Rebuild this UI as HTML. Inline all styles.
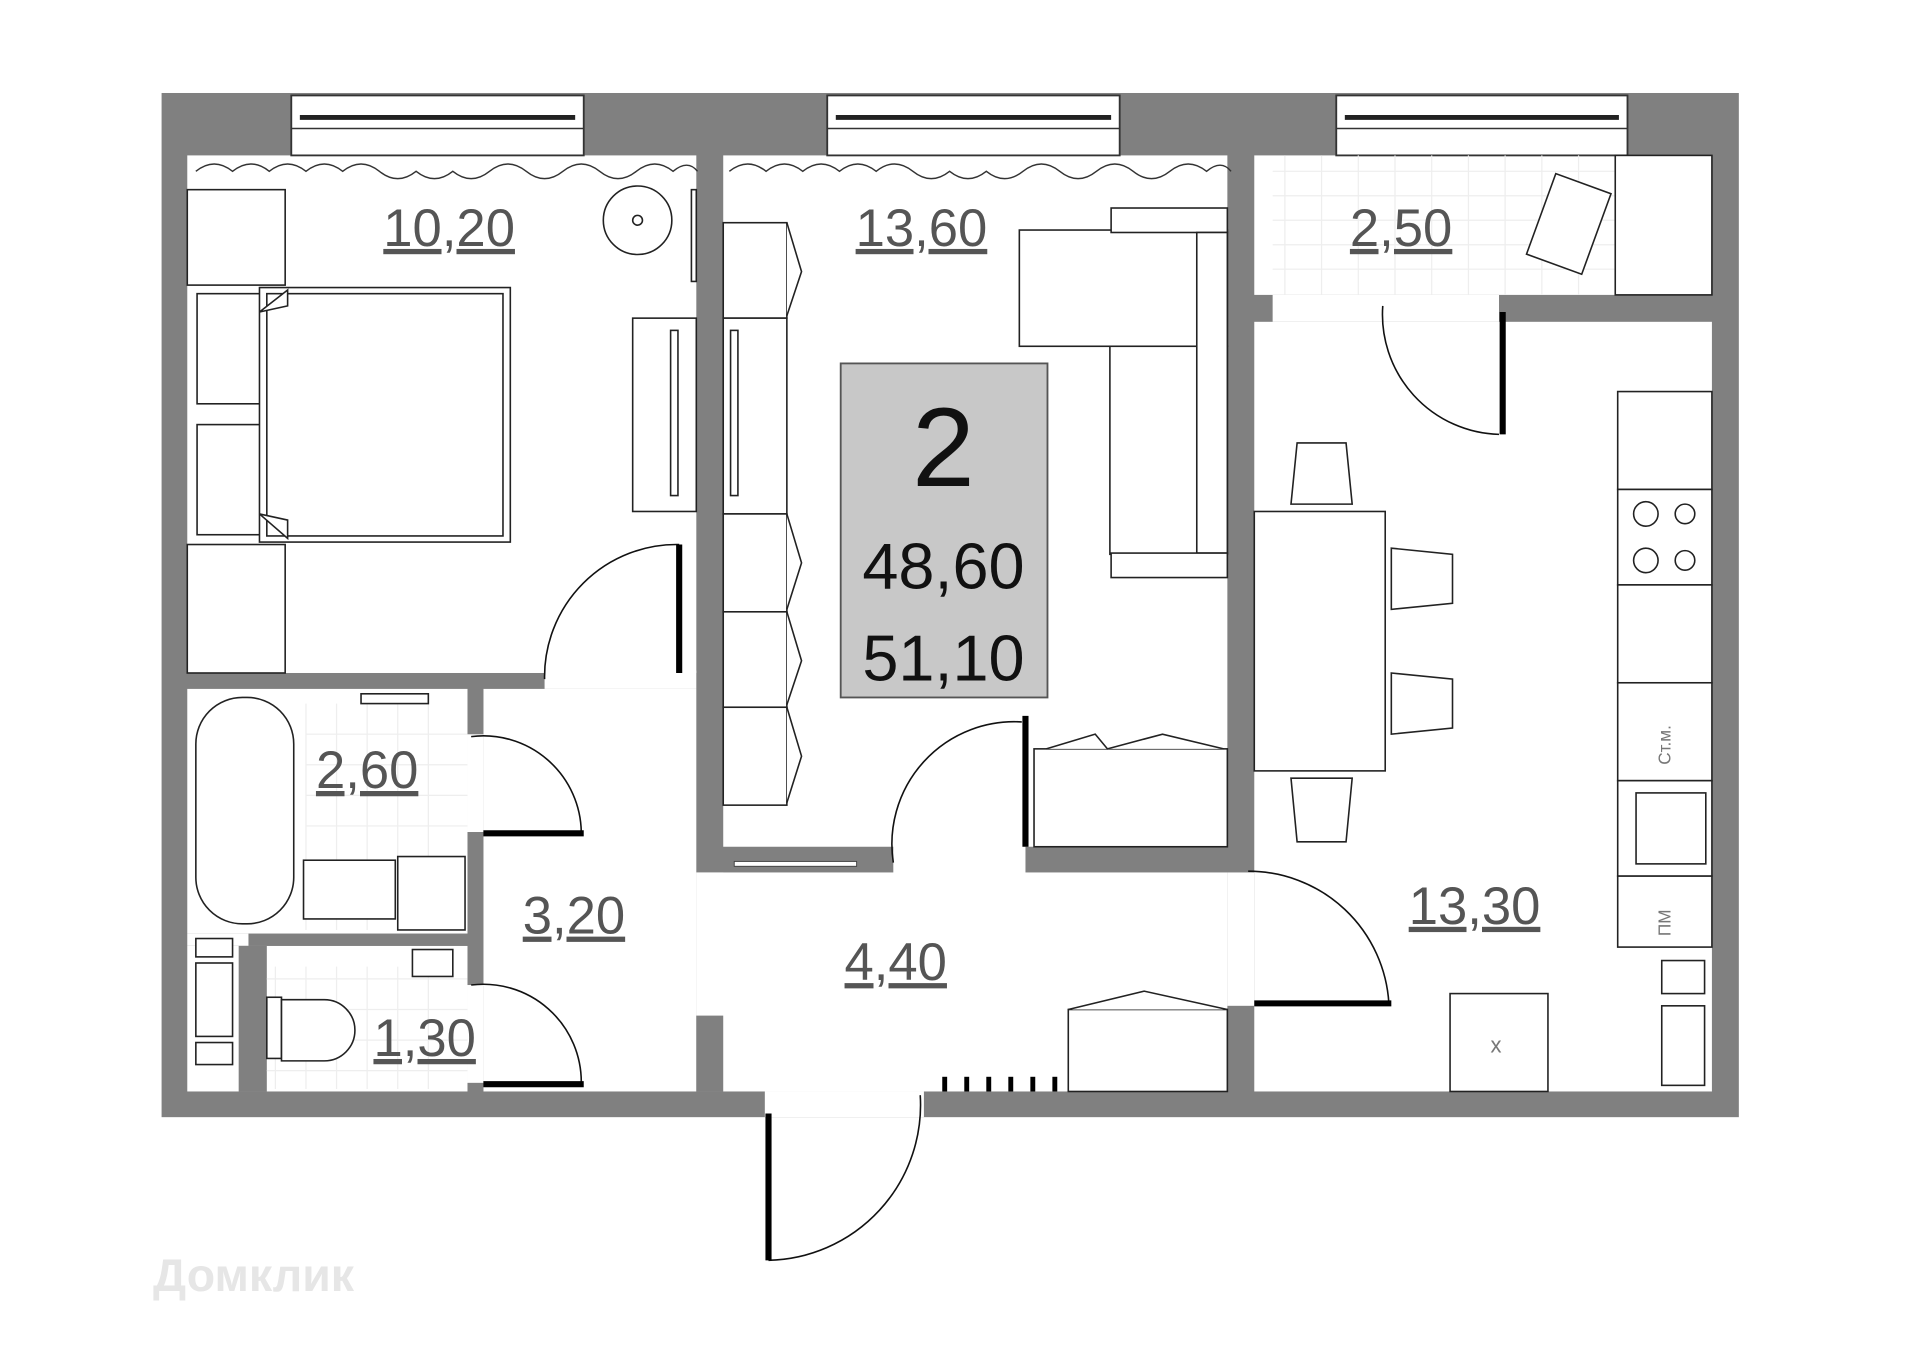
<!DOCTYPE html>
<html><head><meta charset="utf-8"><style>
html,body{margin:0;padding:0;background:#fff;}
svg{display:block;}
text{font-family:"Liberation Sans","DejaVu Sans",sans-serif;}
</style></head><body>
<svg width="1920" height="1357" viewBox="0 0 1569 1109" xmlns="http://www.w3.org/2000/svg">
<rect width="1569" height="1109" fill="#fff"/>
<rect x="132" y="76" width="1289" height="837" fill="#808080"/>
<g fill="#fff">
<rect x="153" y="127" width="416" height="423"/>
<rect x="591" y="127" width="412" height="565"/>
<rect x="1025" y="127" width="374" height="114"/>
<rect x="1025" y="263" width="374" height="629"/>
<rect x="153" y="563" width="229" height="200"/>
<rect x="153" y="773" width="229" height="119"/>
<rect x="395" y="563" width="174" height="329"/>
<rect x="569" y="713" width="434" height="179"/>
<rect x="730" y="690" width="108" height="25"/>
<rect x="382" y="600" width="13" height="80"/>
<rect x="382" y="805" width="13" height="80"/>
<rect x="445" y="548" width="124" height="15"/>
<rect x="1003" y="713" width="22" height="109"/>
<rect x="1040" y="241" width="185" height="22"/>
<rect x="625" y="892" width="130" height="21"/>
<rect x="569" y="713" width="22" height="117"/>
</g>
<rect x="569" y="830" width="22" height="62" fill="#808080"/>
<rect x="600" y="704" width="100" height="4" fill="#fff" stroke="#444" stroke-width="0.8"/>
<rect x="153" y="763" width="229" height="10" fill="#808080"/>
<rect x="153" y="763" width="50" height="10" fill="#fff"/>
<rect x="195" y="773" width="23" height="119" fill="#808080"/>
<rect x="382" y="563" width="13" height="37" fill="#808080"/>
<rect x="382" y="680" width="13" height="125" fill="#808080"/>
<rect x="382" y="885" width="13" height="7" fill="#808080"/>
<g fill="#fff" stroke="#333" stroke-width="1.5">
<rect x="238" y="78" width="239" height="49"/>
<rect x="676" y="78" width="239" height="49"/>
<rect x="1092" y="78" width="238" height="49"/>
</g>
<g stroke="#222" stroke-width="4">
<line x1="245" y1="96" x2="470" y2="96"/><line x1="683" y1="96" x2="908" y2="96"/><line x1="1099" y1="96" x2="1323" y2="96"/>
</g>
<g stroke="#333" stroke-width="1.2" fill="none">
<line x1="238" y1="105" x2="477" y2="105"/><line x1="676" y1="105" x2="915" y2="105"/><line x1="1092" y1="105" x2="1330" y2="105"/>
<path d="M160 140 q15 -12 30 0 q15 -12 30 0 q15 -12 30 0 q15 -12 30 0 q15 -12 30 0 q15 12 30 0 q15 12 30 0 q15 12 30 0 q15 -12 30 0 q15 12 30 0 q15 -12 30 0 q15 12 30 0 q15 -12 30 0 q12 -10 20 0"/>
<path d="M596 140 q15 -12 30 0 q15 -12 30 0 q15 -12 30 0 q15 -12 30 0 q15 -12 30 0 q15 12 30 0 q15 12 30 0 q15 12 30 0 q15 -12 30 0 q15 12 30 0 q15 -12 30 0 q15 12 30 0 q15 -12 30 0 q12 -10 20 0"/>
</g>
<g stroke="#eee" stroke-width="1">
<path d="M1040 140 H1320 M1040 160 H1320 M1040 180 H1320 M1040 200 H1320 M1040 220 H1320 M1050 127 V241 M1080 127 V241 M1110 127 V241 M1140 127 V241 M1170 127 V241 M1200 127 V241 M1230 127 V241 M1260 127 V241 M1290 127 V241"/>
<path d="M250 575 V760 M275 575 V760 M300 575 V760 M325 575 V760 M350 575 V760 M250 600 H382 M250 625 H382 M250 650 H382 M250 675 H382 M225 790 V890 M250 790 V890 M275 790 V890 M300 790 V890 M325 790 V890 M350 790 V890 M218 800 H382 M218 825 H382 M218 850 H382 M218 875 H382"/>
</g>
<g stroke="#222" stroke-width="1.3" fill="#fff">
<rect x="1320" y="127" width="79" height="114"/>
<rect x="1258" y="148" width="48" height="70" transform="rotate(20 1282 183)"/>
<rect x="153" y="155" width="80" height="78"/>
<rect x="161" y="240" width="58" height="90"/>
<rect x="161" y="347" width="58" height="90"/>
<rect x="212" y="235" width="205" height="208"/>
<rect x="218" y="240" width="193" height="198"/>
<path d="M212 255 L235 237 L235 250 Z"/>
<path d="M212 420 L235 440 L235 425 Z"/>
<rect x="153" y="445" width="80" height="105"/>
<circle cx="521" cy="180" r="28"/><circle cx="521" cy="180" r="4"/>
<rect x="565" y="155" width="4" height="75"/>
<rect x="517" y="260" width="52" height="158"/>
<rect x="548" y="270" width="6" height="135"/>
<rect x="591" y="182" width="52" height="78"/>
<rect x="591" y="260" width="52" height="160"/>
<rect x="597" y="270" width="6" height="135"/>
<rect x="591" y="420" width="52" height="80"/>
<rect x="591" y="500" width="52" height="78"/>
<rect x="591" y="578" width="52" height="80"/>
<path d="M643 182 L655 222 L643 258 M643 420 L655 460 L643 498 M643 500 L655 540 L643 576 M643 578 L655 618 L643 656"/>
<rect x="833" y="188" width="170" height="95"/>
<rect x="908" y="170" width="95" height="20"/>
<rect x="907" y="283" width="96" height="170"/>
<rect x="978" y="190" width="25" height="262"/>
<rect x="908" y="452" width="95" height="20"/>
<rect x="845" y="612" width="158" height="80"/>
<path d="M855 612 L895 600 L905 612 L950 600 L1000 612"/>
<rect x="873" y="825" width="130" height="67"/>
<path d="M873 825 L935 810 L1003 825"/>
<rect x="160" y="570" width="80" height="185" rx="38"/>
<rect x="248" y="703" width="75" height="48"/>
<rect x="325" y="700" width="55" height="60"/>
<rect x="295" y="567" width="55" height="8"/>
<rect x="160" y="767" width="30" height="15"/><rect x="160" y="787" width="30" height="60"/><rect x="160" y="852" width="30" height="18"/>
<rect x="218" y="815" width="12" height="50"/>
<path d="M230 817 h35 a25 25 0 0 1 0 50 h-35 z"/>
<rect x="337" y="776" width="33" height="22"/>
<rect x="1025" y="418" width="107" height="212"/>
<path d="M1055 412 L1060 362 L1100 362 L1105 412 Z"/>
<path d="M1055 636 L1105 636 L1100 688 L1060 688 Z"/>
<path d="M1137 448 L1187 453 L1187 493 L1137 498 Z"/>
<path d="M1137 550 L1187 555 L1187 595 L1137 600 Z"/>
<rect x="1322" y="320" width="77" height="80"/>
<rect x="1322" y="400" width="77" height="78"/>
<circle cx="1345" cy="420" r="10"/><circle cx="1377" cy="420" r="8"/><circle cx="1345" cy="458" r="10"/><circle cx="1377" cy="458" r="8"/>
<rect x="1322" y="478" width="77" height="80"/>
<rect x="1322" y="558" width="77" height="80"/>
<rect x="1322" y="638" width="77" height="78"/>
<rect x="1337" y="648" width="57" height="58"/>
<rect x="1322" y="716" width="77" height="58"/>
<rect x="1358" y="785" width="35" height="27"/><rect x="1358" y="822" width="35" height="65"/>
<rect x="1185" y="812" width="80" height="80"/>
</g>
<g fill="#777" font-size="14"><text x="1365" y="625" transform="rotate(-90 1365 625)">Ст.м.</text><text x="1365" y="765" transform="rotate(-90 1365 765)">ПМ</text><text x="1218" y="860" font-size="18">x</text></g>
<g stroke="#111" fill="none" stroke-width="1.3">
<path d="M445 555 A108 108 0 0 1 555 445"/>
<path d="M385 602 A80 80 0 0 1 475 680"/>
<path d="M385 805 A80 80 0 0 1 475 885"/>
<path d="M730 705 A100 100 0 0 1 835 590"/>
<path d="M1020 712 A115 115 0 0 1 1135 820"/>
<path d="M1130 250 A98 98 0 0 0 1225 355"/>
<path d="M628 1030 A127 127 0 0 0 752 895"/>
</g>
<g stroke="#000" stroke-width="5">
<line x1="555" y1="445" x2="555" y2="550"/>
<line x1="395" y1="681" x2="477" y2="681"/>
<line x1="395" y1="886" x2="477" y2="886"/>
<line x1="838" y1="585" x2="838" y2="692"/>
<line x1="1025" y1="820" x2="1137" y2="820"/>
<line x1="1228" y1="255" x2="1228" y2="355"/>
<line x1="628" y1="910" x2="628" y2="1030"/>
</g>
<g fill="#000"><rect x="770" y="880" width="4" height="12"/><rect x="788" y="880" width="4" height="12"/><rect x="806" y="880" width="4" height="12"/><rect x="824" y="880" width="4" height="12"/><rect x="842" y="880" width="4" height="12"/><rect x="860" y="880" width="4" height="12"/></g>
<rect x="687" y="297" width="169" height="273" fill="#c8c8c8" stroke="#555" stroke-width="1.5"/>
<g text-anchor="middle" fill="#111">
<text x="771" y="397" font-size="92">2</text>
<text x="771" y="481" font-size="53">48,60</text>
<text x="771" y="556" font-size="53">51,10</text>
</g>
<g font-size="43" fill="#555" text-anchor="middle" text-decoration="underline">
<text x="367" y="201">10,20</text>
<text x="753" y="201">13,60</text>
<text x="1145" y="201">2,50</text>
<text x="300" y="644">2,60</text>
<text x="469" y="763">3,20</text>
<text x="732" y="801">4,40</text>
<text x="347" y="863">1,30</text>
<text x="1205" y="755">13,30</text>
</g>
<text x="125" y="1055" font-size="38" fill="#e6e6e6" font-weight="bold">Домклик</text>
</svg>
</body></html>
